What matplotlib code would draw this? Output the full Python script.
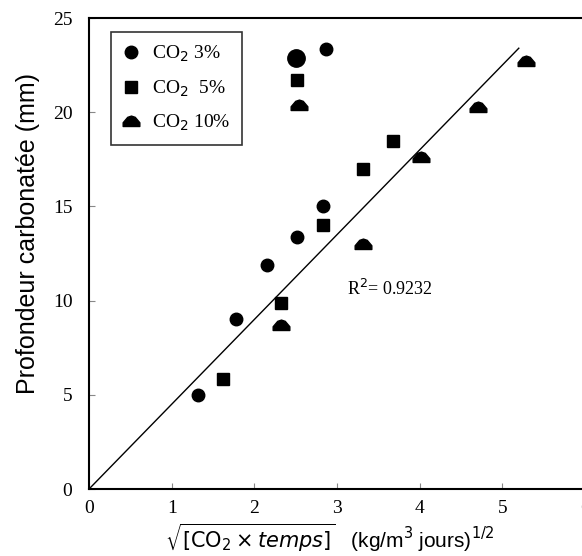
import numpy as np
import matplotlib
matplotlib.use("Agg")
import matplotlib.pyplot as plt
from matplotlib.path import Path

# Data: sqrt(CO2 x temps) vs carbonation depth (mm)
x_co2_3 = [1.32, 1.78, 2.15, 2.52, 2.83, 2.87]
y_co2_3 = [5.0, 9.0, 11.9, 13.4, 15.0, 23.35]
x_co2_5 = [1.62, 2.32, 2.83, 3.31, 3.68, 2.52]
y_co2_5 = [5.85, 9.9, 14.0, 17.0, 18.5, 21.7]
x_co2_10 = [2.32, 3.31, 4.02, 4.71, 5.29, 2.54]
y_co2_10 = [8.7, 13.0, 17.6, 20.3, 22.7, 20.4]
# the large circle drawn in the plot
x_big = [2.51]
y_big = [22.9]

# linear fit through origin
fit_slope = 4.5
fit_x = [0, 5.2]
r2_text = "0.9232"

# dome-like marker (flat bottom, rounded top)
dome = Path([(-1, -0.6), (1, -0.6), (1, -0.15), (0.45, 0.5), (0, 0.65),
             (-0.45, 0.5), (-1, -0.15), (-1, -0.6)],
            [Path.MOVETO] + [Path.LINETO] * 6 + [Path.CLOSEPOLY])

fig = plt.figure(figsize=(5.82, 5.56), dpi=100)
ax = fig.add_axes([0.153, 0.1205, 0.852, 0.847])

ax.plot(fit_x, [fit_slope * v for v in fit_x], color='black', linewidth=1.0, zorder=1)
ax.plot(x_co2_3, y_co2_3, 'o', color='black', markersize=9, label='CO$_2$ 3%', zorder=2)
ax.plot(x_big, y_big, 'o', color='black', markersize=12.5, zorder=2)
ax.plot(x_co2_5, y_co2_5, 's', color='black', markersize=9, label='CO$_2$  5%', zorder=2)
ax.plot(x_co2_10, y_co2_10, linestyle='none', marker=dome, color='black',
        markersize=12, label='CO$_2$ 10%', zorder=2)

ax.text(3.12, 10.3, 'R$^2$= ' + r2_text, fontsize=13, family='Liberation Serif')

ax.set_xlim(0, 6)
ax.set_ylim(0, 25)
ax.set_xticks(range(0, 7))
ax.set_yticks(range(0, 26, 5))
ax.tick_params(direction='in', length=4, color='#888888', labelsize=14)
ax.tick_params(axis='x', pad=8)
ax.tick_params(axis='y', pad=12)
for lab in ax.get_xticklabels() + ax.get_yticklabels():
    lab.set_family('Liberation Serif')
for sp in ax.spines.values():
    sp.set_linewidth(1.5)

ax.set_ylabel('Profondeur carbonatée (mm)', fontsize=18, family='Liberation Sans')
ax.yaxis.set_label_coords(-0.099, 0.543)
ax.set_xlabel(r'$\sqrt{[\mathrm{CO_2}\times \mathit{temps}]}$   (kg/m$^3$ jours)$^{1/2}$',
              fontsize=15, family='Liberation Sans')
ax.xaxis.set_label_coords(0.486, -0.07)

leg = ax.legend(loc='upper left', bbox_to_anchor=(0.044, 0.970), borderaxespad=0,
                frameon=True, fancybox=False, edgecolor='black', handlelength=0.9,
                handletextpad=0.6, borderpad=0.6, labelspacing=0.73,
                prop={'family': 'Liberation Serif', 'size': 14})
leg.get_frame().set_linewidth(1.2)

plt.savefig('out.png', dpi=100)
plt.close()
